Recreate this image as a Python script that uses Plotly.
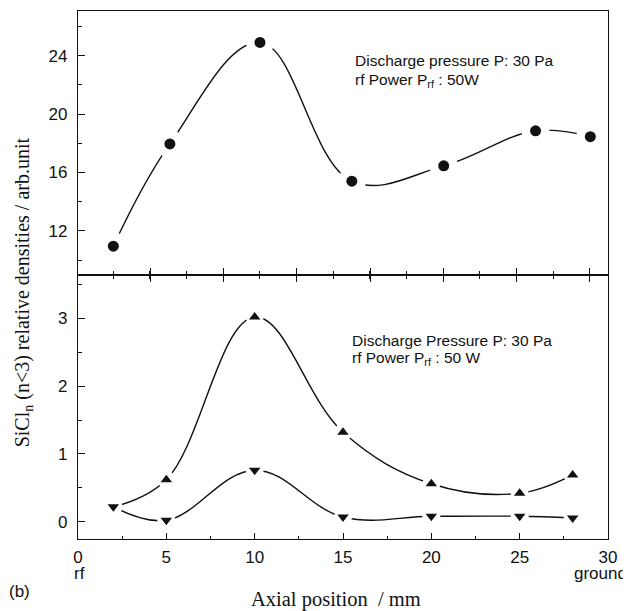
import plotly.graph_objects as go

# top panel: SiCl2-like density (circles)
top_x = [2.0, 5.2, 10.3, 15.5, 20.7, 25.9, 29.0]
top_y = [10.95, 17.95, 24.9, 15.4, 16.45, 18.85, 18.45]

# bottom panel: two series (up / down triangles)
bot_x = [2, 5, 10, 15, 20, 25, 28]
up_y = [0.22, 0.62, 3.02, 1.32, 0.56, 0.42, 0.69]
down_y = [0.22, 0.02, 0.76, 0.07, 0.08, 0.08, 0.055]

SANS = "Liberation Sans, Arial, sans-serif"
SERIF = "Liberation Serif, Times New Roman, serif"
INK = "#111111"

fig = go.Figure()


def add_series(x, y, xa, ya, symbol, gap, size):
    fig.add_scatter(x=x, y=y, xaxis=xa, yaxis=ya, mode="lines",
                    line=dict(color=INK, width=1.4, shape="spline", smoothing=1.1),
                    hoverinfo="skip", showlegend=False)
    # white halo -> the broken-line look around each point
    fig.add_scatter(x=x, y=y, xaxis=xa, yaxis=ya, mode="markers",
                    marker=dict(color="white", size=gap, symbol="circle"),
                    hoverinfo="skip", showlegend=False)
    fig.add_scatter(x=x, y=y, xaxis=xa, yaxis=ya, mode="markers",
                    marker=dict(color=INK, size=size, symbol=symbol),
                    showlegend=False)


add_series(top_x, top_y, "x", "y", "circle", 28, 11)
add_series(bot_x, up_y, "x2", "y2", "triangle-up", 18, 10)
add_series(bot_x, down_y, "x2", "y2", "triangle-down", 18, 10)

ax_common = dict(showline=True, linecolor=INK, linewidth=1.2, mirror=True,
                 showgrid=False, zeroline=False, tickcolor=INK,
                 tickfont=dict(family=SANS, size=17, color=INK))

split = 0.5
# page body has an 8px margin, so the figure is 8px smaller and margins shifted
fig.update_layout(
    width=623, height=603, plot_bgcolor="white", paper_bgcolor="white",
    margin=dict(l=70, r=23, t=3, b=72), showlegend=False,
    xaxis=dict(**ax_common, domain=[0, 1], anchor="y", range=[0, 30],
               showticklabels=False, ticks="inside", tick0=4.08, dtick=4.15, ticklen=7,
               minor=dict(ticks="inside", tick0=2.0, dtick=2.075, ticklen=4, tickcolor=INK)),
    yaxis=dict(**ax_common, domain=[split, 1], anchor="x", range=[8.98, 27.05],
               ticks="inside", dtick=4, ticklen=7, ticklabelstandoff=6,
               minor=dict(ticks="inside", dtick=2, ticklen=4, tickcolor=INK)),
    xaxis2=dict(**ax_common, domain=[0, 1], anchor="y2", range=[0, 30],
                ticks="inside", dtick=5, ticklen=6, ticklabelstandoff=2,
                minor=dict(ticks="inside", dtick=2.5, ticklen=3, tickcolor=INK)),
    yaxis2=dict(**ax_common, domain=[0, split], anchor="x2", range=[-0.255, 3.64],
                ticks="inside", dtick=1, ticklen=7, ticklabelstandoff=6,
                minor=dict(ticks="inside", dtick=0.5, ticklen=4, tickcolor=INK)),
    # downward half of the crossing ticks on the divider line
    xaxis3=dict(overlaying="x2", anchor="y2", side="top", range=[0, 30],
                showline=False, showgrid=False, zeroline=False, showticklabels=False,
                ticks="inside", tick0=4.08, dtick=4.15, ticklen=7, tickcolor=INK,
                minor=dict(ticks="inside", tick0=2.0, dtick=2.075, ticklen=4, tickcolor=INK)),
)
# dummy trace so xaxis3 is drawn
fig.add_scatter(x=[None], y=[None], xaxis="x3", yaxis="y2", showlegend=False, hoverinfo="skip")

note = dict(family=SANS, size=15.5, color=INK)
ann = [
    dict(x=0.518, y=0.907, text="Discharge pressure P: 30 Pa"),
    dict(x=0.518, y=0.868, text="rf Power P<sub>rf</sub> : 50W"),
    dict(x=0.514, y=0.376, text="Discharge Pressure P: 30 Pa"),
    dict(x=0.514, y=0.341, text="rf Power P<sub>rf</sub> : 50 W"),
]
for a in ann:
    fig.add_annotation(xref="paper", yref="paper", xanchor="left", yanchor="middle",
                       showarrow=False, font=note, **a)


def label(x, y, text, font, **kw):
    kw.setdefault("xanchor", "center")
    fig.add_annotation(xref="paper", yref="paper", x=x, y=y, text=text, showarrow=False,
                       yanchor="middle", font=font, **kw)


label(-0.103, 0.468, "SiCl<sub>n</sub> (n&lt;3) relative densities / arb.unit",
      dict(family=SERIF, size=20, color=INK), textangle=-90)
label(0.4866, -0.1145, "Axial position&nbsp; / mm", dict(family=SERIF, size=20.5, color=INK))
label(-0.111, -0.099, "(b)", dict(family=SANS, size=17, color=INK))
label(0.003, -0.065, "rf", dict(family=SANS, size=17, color=INK))
label(1.039, -0.065, "ground", dict(family=SANS, size=17, color=INK), xanchor="right")

fig.write_html("out.html")
